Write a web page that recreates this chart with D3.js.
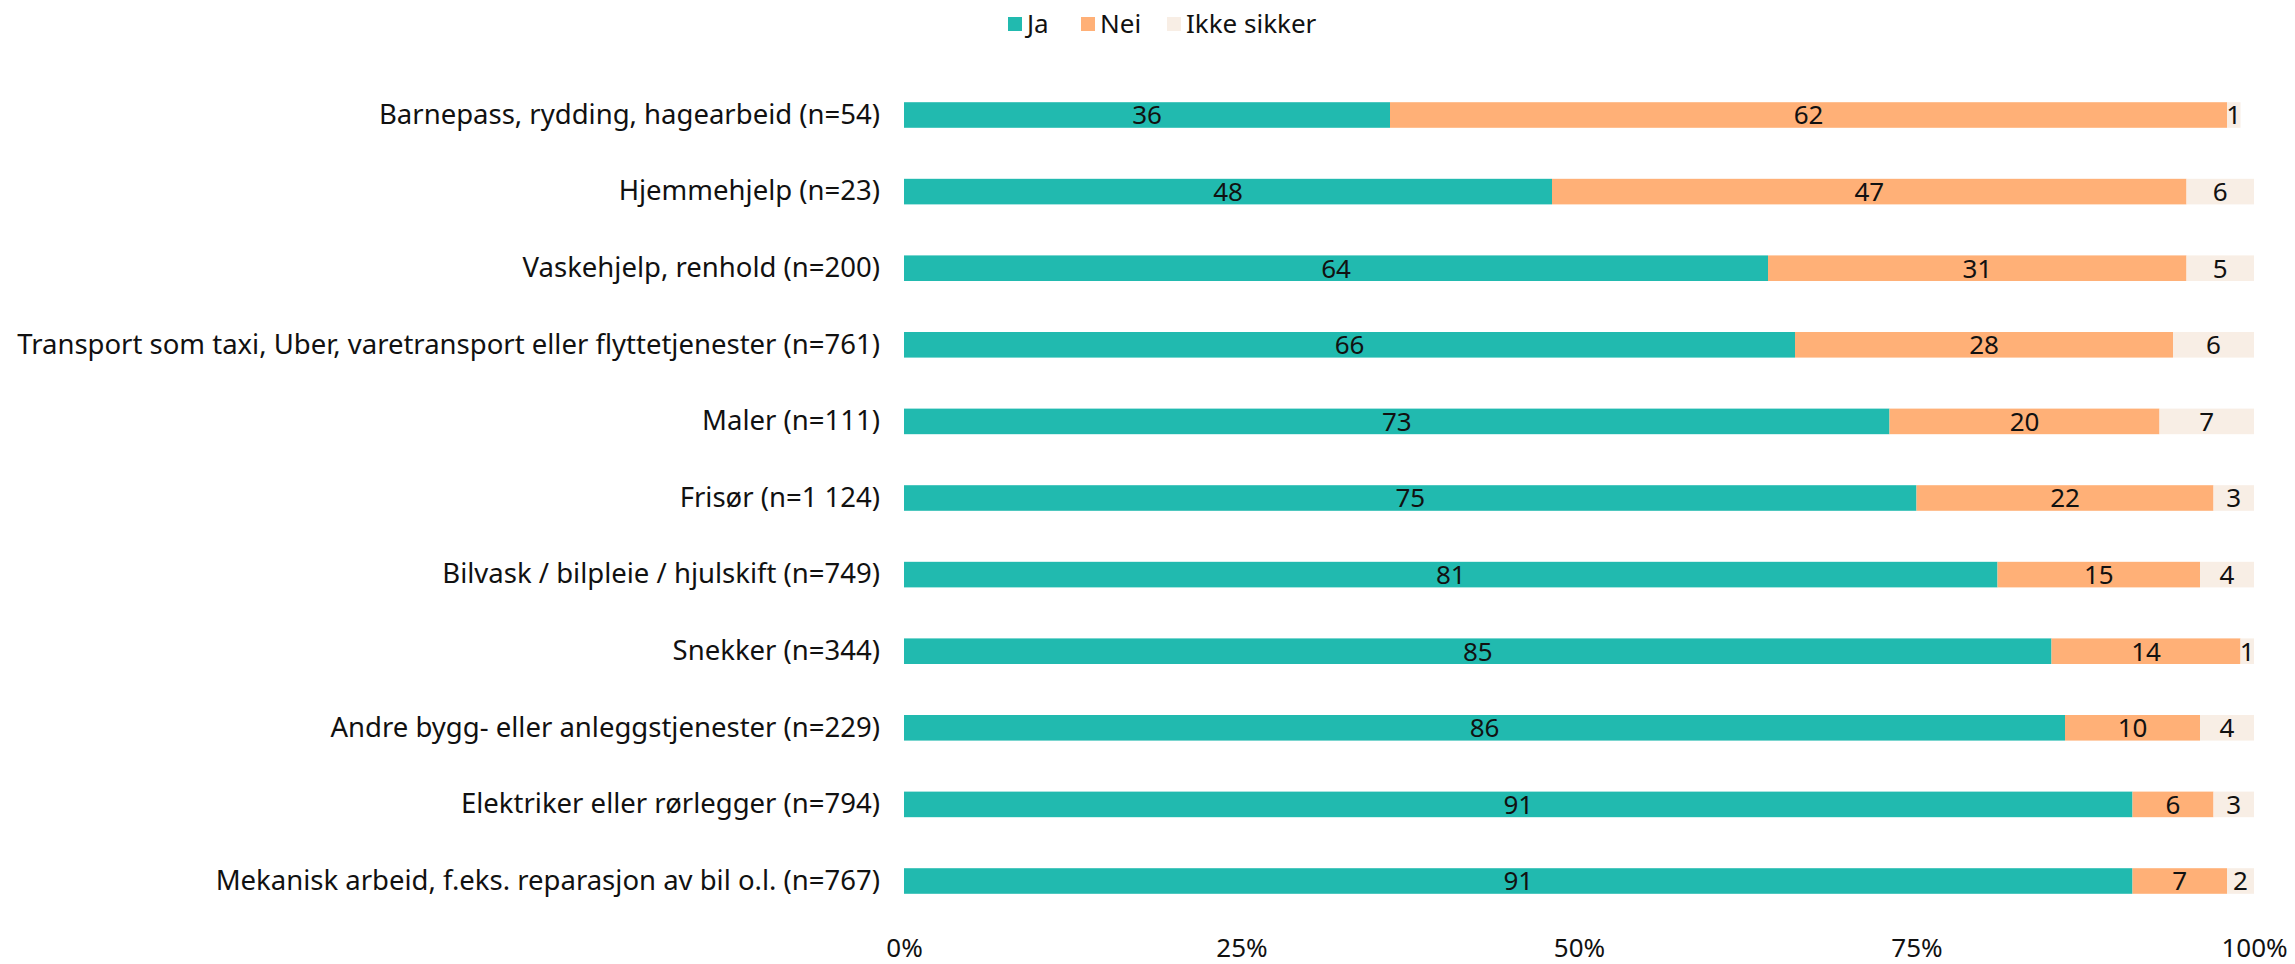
<!DOCTYPE html>
<html>
<head>
<meta charset="utf-8">
<script src="https://cdn.jsdelivr.net/npm/d3@7"></script>
<style>
  html, body { margin: 0; padding: 0; background: #fff; }
  svg text { font-family: "Noto Sans", "Lato", sans-serif; fill: #111; }
</style>
</head>
<body>
<svg id="chart" width="2295" height="964"></svg>
<script>
const categories = [
  "Barnepass, rydding, hagearbeid (n=54)",
  "Hjemmehjelp (n=23)",
  "Vaskehjelp, renhold (n=200)",
  "Transport som taxi, Uber, varetransport eller flyttetjenester (n=761)",
  "Maler (n=111)",
  "Frisør (n=1 124)",
  "Bilvask / bilpleie / hjulskift (n=749)",
  "Snekker (n=344)",
  "Andre bygg- eller anleggstjenester (n=229)",
  "Elektriker eller rørlegger (n=794)",
  "Mekanisk arbeid, f.eks. reparasjon av bil o.l. (n=767)"
];
const seriesNames = ["Ja", "Nei", "Ikke sikker"];
const ja    = [36, 48, 64, 66, 73, 75, 81, 85, 86, 91, 91];
const nei   = [62, 47, 31, 28, 20, 22, 15, 14, 10, 6, 7];
const ikke  = [1, 6, 5, 6, 7, 3, 4, 1, 4, 3, 2];
const tickValues = [0, 25, 50, 75, 100];
const tickLabels = ["0%", "25%", "50%", "75%", "100%"];
const colors = ["#21BAAF", "#FFB077", "#F8EEE5"];

const svg = d3.select("#chart");
const x = d3.scaleLinear().domain([0, 100]).range([904, 2254]).clamp(true);
const y = d3.scaleBand().domain(categories).range([76.7, 919.3]).paddingInner(0.666).paddingOuter(0.333);
const color = d3.scaleOrdinal().domain(seriesNames).range(colors);

const rows = categories.map((c, i) => ({ cat: c, Ja: ja[i], Nei: nei[i], "Ikke sikker": ikke[i] }));
const stacked = d3.stack().keys(seriesNames)(rows);

const g = svg.append("g");
stacked.forEach(layer => {
  const key = layer.key;
  const lg = g.append("g");
  lg.selectAll("rect").data(layer).join("rect")
    .attr("x", d => x(d[0]))
    .attr("y", d => y(d.data.cat))
    .attr("width", d => Math.max(0, x(d[1]) - x(d[0])))
    .attr("height", y.bandwidth())
    .attr("fill", color(key));
  lg.selectAll("text").data(layer).join("text")
    .attr("x", d => (x(d[0]) + x(d[1])) / 2)
    .attr("y", d => y(d.data.cat) + y.bandwidth() / 2)
    .attr("dy", "0.36em")
    .attr("text-anchor", "middle")
    .style("font-size", "26px")
    .text(d => d.data[key]);
});

// category labels
const yAxis = d3.axisLeft(y).tickSize(0).tickPadding(24);
const ya = svg.append("g").attr("transform", `translate(${x(0)},0)`).call(yAxis);
ya.select(".domain").remove();
ya.selectAll("text").style("font-size", "27.5px").style("font-family", "'Noto Sans', Lato, sans-serif").attr("fill", "#111");

// x axis
const xAxis = d3.axisBottom(x).tickValues(tickValues).tickFormat((d, i) => tickLabels[i]).tickSize(0).tickPadding(0);
const xa = svg.append("g").attr("transform", "translate(0,939)").call(xAxis);
xa.select(".domain").remove();
xa.selectAll("text").style("font-size", "26px").style("font-family", "'Noto Sans', Lato, sans-serif").attr("fill", "#111");

// legend
const legendX = [1008, 1081, 1167];
const lgd = svg.append("g");
seriesNames.forEach((s, i) => {
  lgd.append("rect").attr("x", legendX[i]).attr("y", 17).attr("width", 14).attr("height", 14).attr("fill", color(s));
  lgd.append("text").attr("x", legendX[i] + 19).attr("y", 33).style("font-size", "26px").text(s);
});
</script>
</body>
</html>
